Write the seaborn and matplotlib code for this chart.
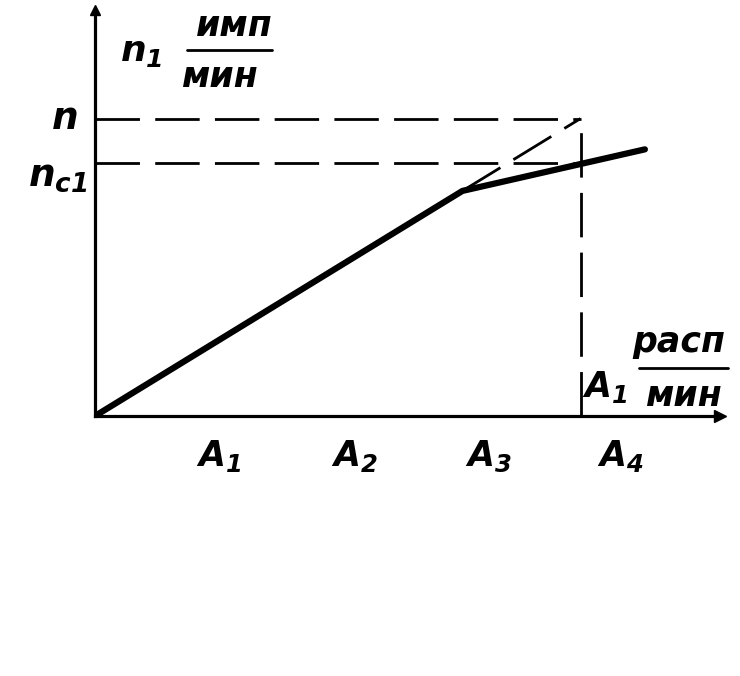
import numpy as np
import pandas as pd
import matplotlib
matplotlib.use("Agg")
import matplotlib.pyplot as plt
from matplotlib.lines import Line2D
import seaborn as sns

# curve: count rate n1 vs activity A (linear part, then saturation)
curve_x = [0.0, 2.74, 4.10]
curve_y = [0.0, 1.68, 1.99]
# extrapolation of the linear part (dashed)
extrap_x = [2.74, 3.62]
extrap_y = [1.68, 2.22]
tick_pos = [0.92, 1.93, 2.93, 3.92]
tick_lbl = [r"$A_1$", r"$A_2$", r"$A_3$", r"$A_4$"]
n_level = 2.22
nc1_level = 1.89
a_meas = 3.62

sns.set_theme(style="white")
plt.rcParams.update({"mathtext.fontset": "custom",
                     "mathtext.it": "DejaVu Sans:italic:bold",
                     "mathtext.rm": "DejaVu Sans:italic:bold",
                     "mathtext.bf": "DejaVu Sans:italic:bold",
                     "text.color": "black", "xtick.color": "black"})
plt.rcParams["font.family"] = ["DejaVu Sans"]

K = "black"
fig = plt.figure(figsize=(7.4, 6.76), dpi=100)
ax = fig.add_axes([95/740, 1 - 416/676, 625/740, 406/676])
ax.set_xlim(0, 4.66)
ax.set_ylim(0, 3.03)

df = pd.DataFrame({"A": curve_x, "n1": curve_y})
sns.lineplot(data=df, x="A", y="n1", color=K, lw=4.5, ax=ax,
             solid_capstyle="round")

dash = dict(color=K, lw=2.0, dashes=(16, 5.5))
ax.plot(extrap_x, extrap_y, **dash)
ax.plot([0, a_meas], [n_level, n_level], **dash)
ax.plot([0, a_meas], [nc1_level, nc1_level], **dash)
ax.plot([a_meas, a_meas], [0, n_level], **dash)

for s in ["top", "right"]:
    ax.spines[s].set_visible(False)
for s in ["left", "bottom"]:
    ax.spines[s].set_color(K)
    ax.spines[s].set_linewidth(2.3)
ax.plot([4.66], [0], marker=">", ms=9, color=K, clip_on=False)
ax.plot([0], [3.03], marker="^", ms=7, color=K, clip_on=False)

ax.set_xticks(tick_pos)
ax.set_xticklabels(tick_lbl, fontsize=25)
ax.tick_params(axis="x", direction="in", length=7, width=2, colors=K, pad=16)
ax.set_yticks([])
ax.set_xlabel(""); ax.set_ylabel("")

# labels of levels
ax.text(-0.13, n_level, r"$n$", fontsize=27, ha="right", va="center")
ax.text(-0.06, nc1_level - 0.1, r"$n_{c1}$", fontsize=27, ha="right", va="center")

tf = dict(fontsize=25, style="italic", weight="bold", color=K)
# y axis unit
ax.text(0.19, 2.72, r"$n_1$", fontsize=26, ha="left", va="center")
ax.text(1.04, 2.91, "имп", ha="center", va="center", **tf)
ax.text(0.93, 2.53, "мин", ha="center", va="center", **tf)
fig.add_artist(Line2D([187/740, 272/740], [1 - 50/676, 1 - 50/676], color=K, lw=2))
# x axis unit
ax.text(3.80, 0.22, r"$A_1$", fontsize=25, ha="center", va="center")
ax.text(4.35, 0.55, "расп", ha="center", va="center", **tf)
ax.text(4.39, 0.15, "мин", ha="center", va="center", **tf)
fig.add_artist(Line2D([639/740, 728/740], [1 - 368/676, 1 - 368/676], color=K, lw=2))

fig.savefig("out.png", dpi=100, facecolor="white")
